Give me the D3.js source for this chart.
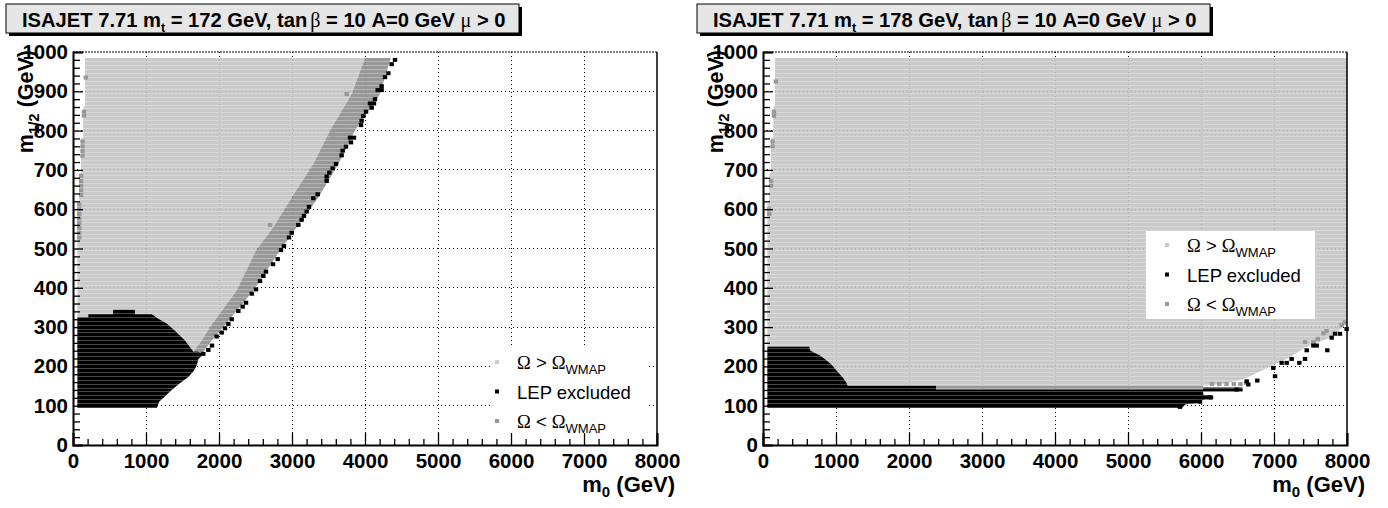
<!DOCTYPE html>
<html>
<head>
<meta charset="utf-8">
<script src="https://cdn.jsdelivr.net/npm/d3@7"></script>
<style>
  body { margin: 0; background: #fff; }
  svg { display: block; font-family: "Liberation Sans", Arial, sans-serif; }
</style>
</head>
<body>
<div id="chart"></div>
<script>
// axis ticks
const xTicks = [0, 1000, 2000, 3000, 4000, 5000, 6000, 7000, 8000];
const yTicks = [0, 100, 200, 300, 400, 500, 600, 700, 800, 900, 1000];
const topQuarkMass = ["172", "178"];

// left panel (mt = 172) : regions in (m0, m1/2) GeV
const leftAboveWmap = [[165,985],[4000,985],[3818,893],[3521,800],[3292,715],[2996,630],[2744,554],[2507,495],
  [2242,393],[1877,300],[1763,266],[1648,236],[1400,233],[60,233],[60,615],[85,618],[85,690],[110,692],
  [110,780],[140,782],[140,860],[165,862]];
const leftBelowWmap = [[4000,985],[4352,985],[4205,893],[3863,800],[3635,715],[3361,630],[3064,554],[2836,495],
  [2470,393],[2059,300],[1900,266],[1786,238],[1680,226],[1648,236],[1763,266],[1877,300],[2242,393],
  [2507,495],[2744,554],[2996,630],[3292,715],[3521,800],[3818,893]];
const leftLepExcluded = [[60,95],[1150,95],[1180,110],[1352,140],[1450,155],[1580,173],[1660,190],[1700,205],
  [1715,218],[1760,226],[1790,232],[1700,238],[1650,237],[1534,266],[1400,290],[1283,309],[1180,320],
  [1078,333],[849,333],[849,344],[548,344],[548,333],[210,333],[210,325],[60,325]];
const leftLepEdge = [[4411,980],[4365,969],[4320,946],[4274,936],[4228,913],[4174,903],[4228,903],[4137,880],
  [4068,869],[4123,869],[4091,858],[4014,848],[3977,837],[3954,825],[3945,814],[3849,782],[3795,782],
  [3808,770],[3740,759],[3694,749],[3680,737],[3603,715],[3557,704],[3511,693],[3475,683],[3475,672],
  [3352,638],[3292,628],[3233,606],[3201,594],[3164,583],[3132,573],[3087,560],[2996,540],[2959,528],
  [2890,506],[2849,496],[2804,473],[2740,460],[2644,441],[2607,430],[2562,417],[2507,396],[2450,385],
  [2370,362],[2324,352],[2265,341],[2174,320],[2128,308],[2082,297],[2037,286],[1968,276],[1904,253],
  [1854,242],[1785,232]];
const leftLowEdge = [[175,935],[150,848],[150,838],[130,772],[130,760],[130,748],[130,736],[110,685],[110,672],
  [110,660],[110,648],[110,636],[85,612],[85,600],[85,588],[85,576],[85,564],[85,552],[85,540],[85,528],
  [3749,893],[3560,790],[2700,560]];

// right panel (mt = 178)
const rightAboveWmap = [[165,985],[8000,985],[8000,309],[7790,275],[7448,250],[7200,222],[6945,199],[6580,167],
  [6300,156],[6032,151],[60,151],[60,615],[85,618],[85,690],[110,692],[110,780],[140,782],[140,860],[165,862]];
const rightBelowWmap = [[2370,141],[6030,141],[6030,151],[2370,151]];
const rightLepExcluded = [[60,95],[5740,95],[5790,104],[5960,106],[5990,114],[6130,118],[6140,126],[6030,128],
  [6030,136],[6570,136],[6570,146],[6030,146],[6030,141],[2370,141],[2370,151],[1160,151],[1137,160],
  [1100,170],[1046,181],[995,192],[941,204],[872,215],[781,228],[650,240],[634,250],[60,250]];
const rightLepEdge = [[6626,162],[6771,164],[6648,154],[6114,121],[6137,121],[6489,141],[5986,110],[5712,97],
  [6991,196],[7014,175],[7105,209],[7174,209],[7242,219],[7347,209],[7425,219],[7448,241],[7539,253],
  [7585,253],[7730,241],[7790,273],[7836,283],[7904,283],[7995,295]];
const rightLowEdge = [[175,925],[150,848],[150,838],[130,772],[130,760],[110,672],[110,660],[85,600],[85,588],
  [6150,155],[6250,155],[6350,155],[6450,155],[6540,155],[6620,158],[7425,262],[7540,262],[7600,270],
  [7676,284],[7720,290],[7927,305],[7970,312]];

const legendLabels = ["above", "lep", "below"];

const colors = { above: "#cacaca", below: "#989898", lep: "#000" };

const panels = [
  { left: 73, above: leftAboveWmap, below: leftBelowWmap, lep: leftLepExcluded, lepEdge: leftLepEdge,
    lowEdge: leftLowEdge, titleX: 6, legend: { x: 490, y: 345, w: 157, h: 88, mx: 7, my: 17, tx: 27 } },
  { left: 763, above: rightAboveWmap, below: rightBelowWmap, lep: rightLepExcluded, lepEdge: rightLepEdge,
    lowEdge: rightLowEdge, titleX: 697, legend: { x: 1146, y: 231, w: 169, h: 88, mx: 21, my: 14, tx: 41 } }
];

const svg = d3.select("#chart").append("svg").attr("width", 1388).attr("height", 508);
const defs = svg.append("defs");

const plotW = 584, yBottom = 445, yTop = 52;

panels.forEach((p, i) => {
  const x = d3.scaleLinear().domain([0, 8000]).range([p.left, p.left + plotW]);
  const y = d3.scaleLinear().domain([0, 1000]).range([yBottom, yTop]);
  const g = svg.append("g");
  const line = d3.line().x(d => x(d[0])).y(d => y(d[1])).curve(d3.curveLinearClosed);

  // grid below
  const grid = g.append("g").attr("stroke", "#000").attr("stroke-dasharray", "1,3").attr("stroke-width", 1)
    .attr("shape-rendering", "crispEdges");
  xTicks.slice(1, -1).forEach(v => grid.append("line").attr("x1", x(v)).attr("x2", x(v)).attr("y1", yBottom).attr("y2", yTop));
  yTicks.slice(1, -1).forEach(v => grid.append("line").attr("y1", y(v)).attr("y2", y(v)).attr("x1", x(0)).attr("x2", x(8000)));

  // regions
  const clipId = "clip" + i;
  const clip = defs.append("clipPath").attr("id", clipId);
  [["above", p.above], ["below", p.below], ["lep", p.lep]].forEach(([k, poly]) => {
    g.append("path").attr("d", line(poly)).attr("fill", colors[k]);
    clip.append("path").attr("d", line(poly));
  });

  // scan row seams
  const seams = g.append("g").attr("clip-path", `url(#${clipId})`).attr("stroke", "#fff")
    .attr("stroke-opacity", 0.28).attr("shape-rendering", "crispEdges");
  d3.range(105, 990, 10).forEach(v => seams.append("line").attr("x1", x(0)).attr("x2", x(8000)).attr("y1", y(v)).attr("y2", y(v)));

  // edge markers
  g.append("g").selectAll("rect").data(p.lowEdge).join("rect")
    .attr("x", d => x(d[0]) - 2.2).attr("y", d => y(d[1]) - 2).attr("width", 4.4).attr("height", 4)
    .attr("fill", colors.below);
  g.append("g").selectAll("rect").data(p.lepEdge).join("rect")
    .attr("x", d => x(d[0]) - 2.2).attr("y", d => y(d[1]) - 2).attr("width", 4.4).attr("height", 4)
    .attr("fill", colors.lep);

  // faint grid on top
  const grid2 = grid.clone(true).attr("opacity", 0.12);
  g.node().appendChild(grid2.node());

  // axes
  const xAxis = g.append("g").attr("transform", `translate(0,${yBottom})`)
    .call(d3.axisBottom(x).tickValues(xTicks).tickSize(-12).tickPadding(8).tickFormat(d3.format("d")));
  g.append("g").attr("transform", `translate(0,${yBottom})`)
    .call(d3.axisBottom(x).tickValues(d3.range(0, 8001, 200).filter(v => v % 1000)).tickSize(-6).tickFormat(""))
    .call(a => a.select(".domain").remove());
  const yAxis = g.append("g").attr("transform", `translate(${p.left},0)`)
    .call(d3.axisLeft(y).tickValues(yTicks).tickSize(-10).tickPadding(5).tickFormat(d3.format("d")));
  g.append("g").attr("transform", `translate(${p.left},0)`)
    .call(d3.axisLeft(y).tickValues(d3.range(0, 1001, 20).filter(v => v % 100)).tickSize(-7).tickFormat(""))
    .call(a => a.select(".domain").remove());
  [xAxis, yAxis].forEach(a => {
    a.select(".domain").attr("stroke-width", 2);
    a.selectAll("text").attr("font-size", 20.5).attr("font-weight", "bold").attr("fill", "#000")
      .attr("font-family", '"Liberation Sans", Arial, sans-serif');
  });
  g.selectAll(".tick line").attr("stroke-width", 1.3);

  // frame
  g.append("line").attr("x1", x(8000)).attr("x2", x(8000)).attr("y1", yTop).attr("y2", yBottom)
    .attr("stroke", "#000").attr("stroke-width", 1.5);
  g.append("line").attr("x1", x(0)).attr("x2", x(8000)).attr("y1", yTop).attr("y2", yTop)
    .attr("stroke", "#000").attr("stroke-width", 1.2).attr("stroke-dasharray", "2,1");

  // axis titles
  const xt = g.append("text").attr("x", x(8000) + 18).attr("y", 492).attr("text-anchor", "end")
    .attr("font-size", 22).attr("font-weight", "bold");
  xt.append("tspan").text("m");
  xt.append("tspan").attr("font-size", 15).attr("dy", 5).text("0");
  xt.append("tspan").attr("dy", -5).text(" (GeV)");

  const yt = g.append("text").attr("transform", `translate(${p.left - 40},${yTop - 2}) rotate(-90)`)
    .attr("text-anchor", "end").attr("font-size", 21.5).attr("font-weight", "bold");
  yt.append("tspan").text("m");
  yt.append("tspan").attr("font-size", 15).attr("dy", 6).text("1/2");
  yt.append("tspan").attr("dy", -6).text(" (GeV)");

  // legend
  const L = p.legend;
  const lg = g.append("g").attr("transform", `translate(${L.x},${L.y})`);
  lg.append("rect").attr("width", L.w).attr("height", L.h).attr("fill", "#fff");
  legendLabels.forEach((k, j) => {
    const cy = L.my + j * 29.5;
    lg.append("rect").attr("x", L.mx - 2).attr("y", cy - 2).attr("width", 4).attr("height", 4).attr("fill", colors[k]);
    const t = lg.append("text").attr("x", L.tx).attr("y", cy + 7).attr("font-size", 18.5).attr("fill", "#000");
    if (k === "lep") {
      t.text("LEP excluded");
    } else {
      t.append("tspan").attr("font-family", '"Liberation Serif", serif').text("Ω");
      t.append("tspan").text(k === "above" ? " > " : " < ");
      t.append("tspan").attr("font-family", '"Liberation Serif", serif').text("Ω");
      t.append("tspan").attr("font-size", 13).attr("dy", 5).text("WMAP");
    }
  });

  // title box
  const tb = svg.append("g");
  tb.append("rect").attr("x", p.titleX + 3).attr("y", 7).attr("width", 513).attr("height", 29).attr("fill", "#000");
  tb.append("rect").attr("x", p.titleX).attr("y", 4).attr("width", 513).attr("height", 29)
    .attr("fill", "#e6e6e6").attr("stroke", "#000").attr("stroke-width", 1);
  const tt = tb.append("text").attr("x", p.titleX + 16).attr("y", 27).attr("font-size", 21).attr("font-weight", "bold");
  tt.append("tspan").text("ISAJET 7.71 m");
  tt.append("tspan").attr("font-size", 13).attr("dy", 5).text("t");
  tt.append("tspan").attr("dy", -5).text(` = ${topQuarkMass[i]} GeV, tan`);
  tt.append("tspan").attr("dx", 3).attr("font-family", '"Liberation Serif", serif').attr("font-weight", "normal").text("β");
  tt.append("tspan").text(" = 10 A=0 GeV ");
  tt.append("tspan").attr("font-family", '"Liberation Serif", serif').attr("font-weight", "normal").text("μ");
  tt.append("tspan").text(" > 0");
  const w = tt.node().getComputedTextLength();
  const sx = 481 / w;
  tt.attr("transform", `translate(${(p.titleX + 16) * (1 - sx)},0) scale(${sx},1)`);
});
</script>
</body>
</html>
